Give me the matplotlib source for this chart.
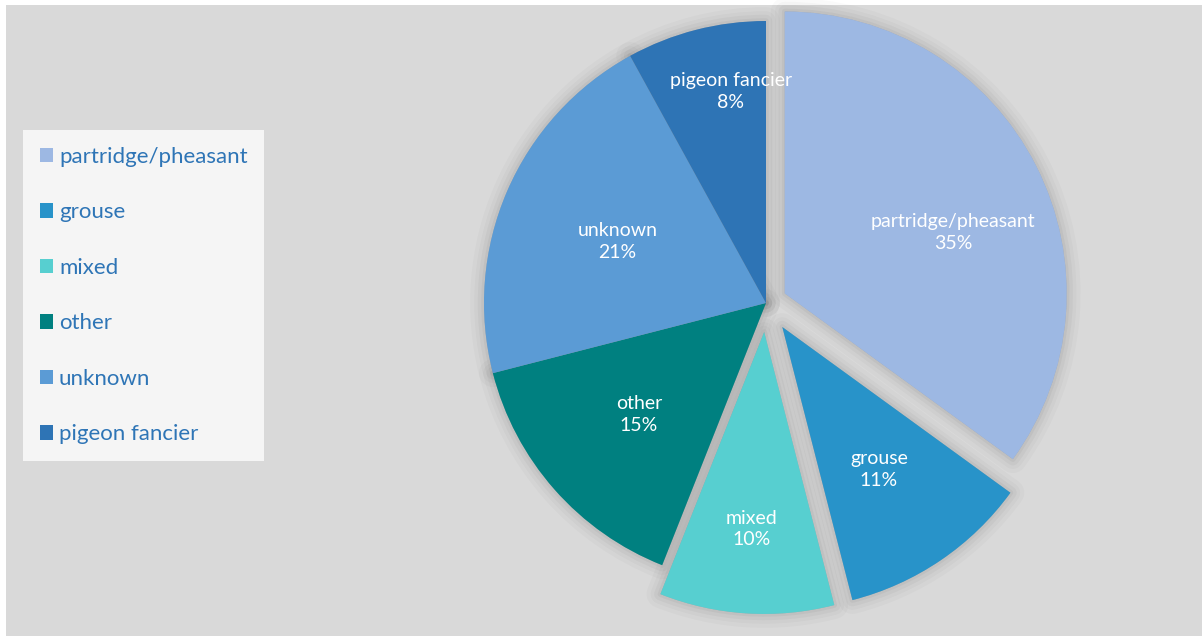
import matplotlib
matplotlib.use("Agg")
import matplotlib.pyplot as plt
from matplotlib.patches import Rectangle, Wedge
import numpy as np

plt.rcParams['font.family'] = ['Lato', 'DejaVu Sans']

# data
categories = ['partridge/pheasant', 'grouse', 'mixed', 'other', 'unknown', 'pigeon fancier']
shares = [35, 11, 10, 15, 21, 8]
colors = ['#9DB8E3', '#2893C9', '#57CFD0', '#008080', '#5B9BD5', '#2E74B5']
explode = [21, 29, 29, 0, 0, 0]            # pixels
# label placement inside slice: fraction of radius, angle shift from the mid angle
label_dist = [0.635, 0.61, 0.70, 0.60, 0.57, 0.76]
label_shift = [-7, 0, 0, 0, 1, -5]

W, H = 1203, 638
fig = plt.figure(figsize=(W / 100, H / 100), dpi=100, facecolor='white')
ax = fig.add_axes([0, 0, 1, 1])
ax.set_axis_off()

# grey chart area
ax.add_patch(Rectangle((6, 2), W - 7, H - 7, facecolor='#D9D9D9', edgecolor='none', zorder=0))

center = (766, 335)
radius = 282
wedges, _ = ax.pie(shares, colors=colors, explode=explode, startangle=90, counterclock=False,
                   center=center, radius=radius, wedgeprops=dict(linewidth=0, zorder=3))

# soft shadow around each slice
for w in wedges:
    for lw, a in [(20, 0.02), (14, 0.025), (9, 0.03), (4, 0.035)]:
        sh = Wedge(w.center, w.r, w.theta1, w.theta2, facecolor='black', edgecolor='black',
                   linewidth=lw, alpha=a, joinstyle='round', zorder=2)
        ax.add_patch(sh)

# labels
total = sum(shares)
for w, name, v, d, s in zip(wedges, categories, shares, label_dist, label_shift):
    mid = np.deg2rad((w.theta1 + w.theta2) / 2 + s)
    x = w.center[0] + d * w.r * np.cos(mid)
    y = w.center[1] + d * w.r * np.sin(mid)
    ax.text(x, y, f"{name}\n{v / total * 100:.0f}%", ha='center', va='center', color='white',
            fontsize=14, linespacing=1.35, zorder=5)

ax.set_xlim(0, W)
ax.set_ylim(0, H)
ax.set_aspect('auto')

leg = ax.legend(wedges, categories, loc='upper left', bbox_to_anchor=(23 / W, 1 - 130 / H),
                frameon=True, fancybox=False, fontsize=16, labelcolor='#2E75B6',
                handlelength=0.62, handleheight=0.62, handletextpad=0.25,
                labelspacing=1.6, borderpad=0.75, borderaxespad=0)
leg.get_frame().set_facecolor('#F5F5F5')
leg.get_frame().set_edgecolor('none')
leg.get_frame().set_alpha(1)

fig.savefig('out.png', dpi=100, facecolor='white')
